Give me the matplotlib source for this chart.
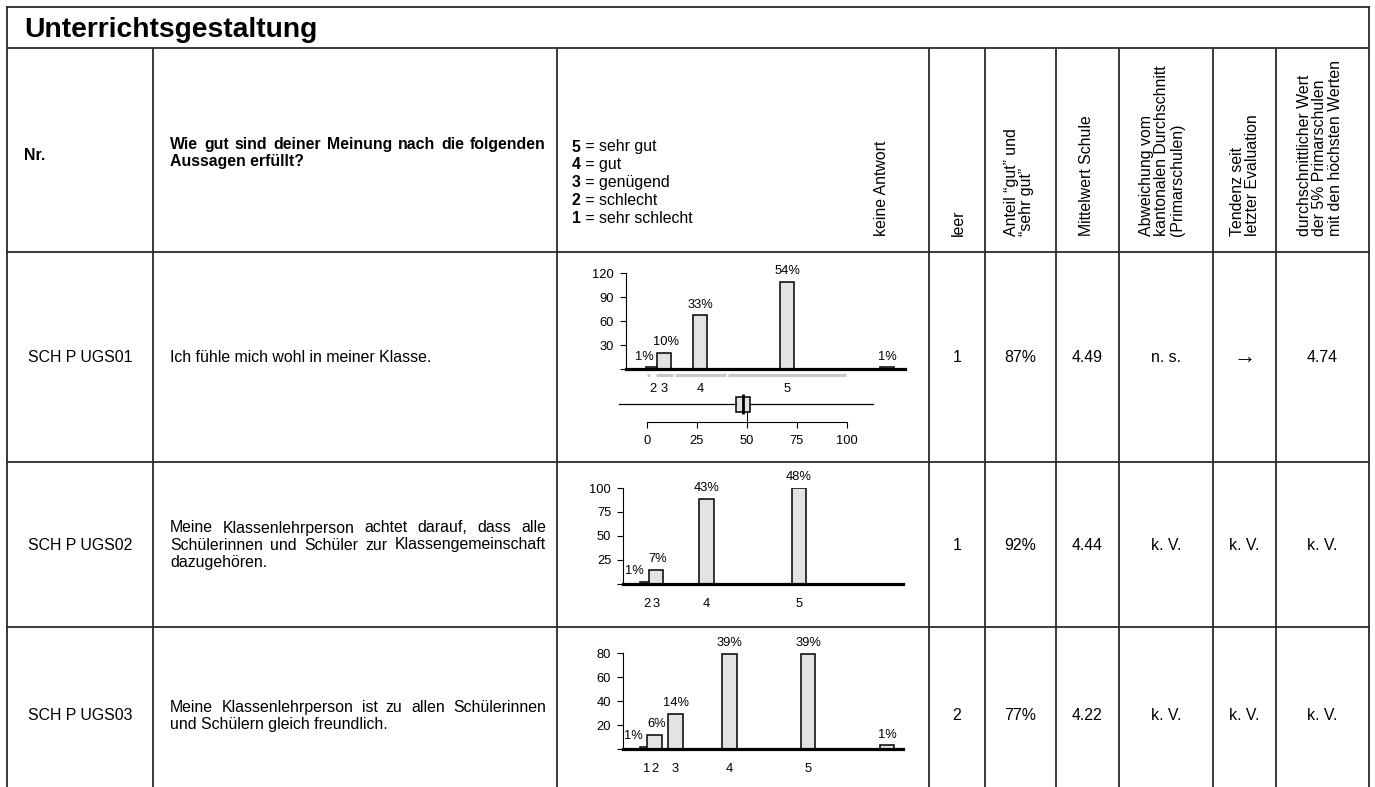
import numpy as np
import matplotlib
matplotlib.use("Agg")
import matplotlib.pyplot as plt

plt.rcParams['font.family'] = ['Liberation Sans', 'DejaVu Sans']

# ---------------- data ----------------
title = "Unterrichtsgestaltung"
header_nr = "Nr."
header_question = ["Wie gut sind deiner Meinung nach die folgenden", "Aussagen erfüllt?"]
scale_nums = ["5", "4", "3", "2", "1"]
scale_words = ["sehr gut", "gut", "genügend", "schlecht", "sehr schlecht"]
header_cols = ["keine Antwort", "leer", "Anteil “gut” und\n“sehr gut”", "Mittelwert Schule",
               "Abweichung vom\nkantonalen Durchschnitt\n(Primarschulen)",
               "Tendenz seit\nletzter Evaluation",
               "durchschnittlicher Wert\nder 5% Primarschulen\nmit den höchsten Werten"]

item_ids = ["SCH P UGS01", "SCH P UGS02", "SCH P UGS03"]
item_texts = [["Ich fühle mich wohl in meiner Klasse."],
              ["Meine Klassenlehrperson achtet darauf, dass alle",
               "Schülerinnen und Schüler zur Klassengemeinschaft",
               "dazugehören."],
              ["Meine Klassenlehrperson ist zu allen Schülerinnen",
               "und Schülern gleich freundlich."]]
leer = ["1", "1", "2"]
anteil = ["87%", "92%", "77%"]
mittelwert = ["4.49", "4.44", "4.22"]
abweichung = ["n. s.", "k. V.", "k. V."]
tendenz = ["\u2192", "k. V.", "k. V."]
top5 = ["4.74", "k. V.", "k. V."]

# histogram per item ("" = keine Antwort); position on the 0-100 percentile scale
cats_1 = ["2", "3", "4", "5", ""]
counts_1 = [2, 20, 67, 109, 2]
pct_1 = ["1%", "10%", "33%", "54%", "1%"]
pos_1 = [3.0, 8.5, 26.5, 70.0, 120.0]
ymax_1 = 120

cats_2 = ["2", "3", "4", "5"]
counts_2 = [2, 15, 89, 100]
pct_2 = ["1%", "7%", "43%", "48%"]
pos_2 = [0.0, 4.5, 29.75, 76.0]
ymax_2 = 100

cats_3 = ["1", "2", "3", "4", "5", ""]
counts_3 = [2, 12, 29, 79, 79, 3]
pct_3 = ["1%", "6%", "14%", "39%", "39%", "1%"]
pos_3 = [0.0, 3.75, 14.25, 41.25, 80.5, 120.0]
ymax_3 = 80

# percentile ranges (grey bands) and box plot for item 1
range_lo_1 = [0.2, 4.5, 13.8, 40.5]
range_hi_1 = [1.5, 12.8, 39.5, 99.5]
box_1 = dict(whislo=-14, q1=44.5, med=48, q3=51.5, whishi=113)
ref_1 = 50
scale_ticks = [0, 25, 50, 75, 100]

# ---------------- layout (pixels) ----------------
W, H, DPI = 1375, 787, 100
COLS = [7, 153, 557, 929, 985, 1056, 1119, 1213, 1276, 1369]
TOP, TITLE_B, HEAD_B = 7, 48, 252
ROW_LINES = [462, 627]
ROW_Y = [357, 545, 716]
TEXT_X0, TEXT_X1 = 170, 546
X0, XS = 647.0, 2.0          # pixel = X0 + XS * percentile
BODY = 11.4
SMALL = 9.3
LINE_H = 17
LINE_C = '#2b2b2b'

fig = plt.figure(figsize=(W / DPI, H / DPI), dpi=DPI)
bg = fig.add_axes([0, 0, 1, 1])
bg.set_xlim(0, W)
bg.set_ylim(H, 0)
bg.axis('off')
renderer = fig.canvas.get_renderer()


def px_axes(l, t, r, b):
    return fig.add_axes([l / W, 1 - b / H, (r - l) / W, (b - t) / H])


def text_width(s, **kw):
    t = bg.text(0, 0, s, **kw)
    w = t.get_window_extent(renderer).width
    t.remove()
    return w


def justified(lines, y_center, **kw):
    n = len(lines)
    y0 = y_center - (n - 1) * LINE_H / 2
    for i, line in enumerate(lines):
        y = y0 + i * LINE_H
        words = line.split(' ')
        if i == n - 1 or len(words) == 1:
            bg.text(TEXT_X0, y, line, ha='left', va='center', **kw)
            continue
        widths = [text_width(w, **kw) for w in words]
        gap = (TEXT_X1 - TEXT_X0 - sum(widths)) / (len(words) - 1)
        x = TEXT_X0
        for w, wd in zip(words, widths):
            bg.text(x, y, w, ha='left', va='center', **kw)
            x += wd + gap


# grid
lw = 1.3
for yl in [TOP, TITLE_B, HEAD_B] + ROW_LINES:
    bg.plot([COLS[0], COLS[-1]], [yl, yl], color=LINE_C, lw=lw)
bg.plot([COLS[0], COLS[0]], [TOP, H], color=LINE_C, lw=lw)
bg.plot([COLS[-1], COLS[-1]], [TOP, H], color=LINE_C, lw=lw)
for xc in COLS[1:-1]:
    bg.plot([xc, xc], [TITLE_B, H], color=LINE_C, lw=lw)

# title
bg.text(24, 37, title, fontsize=20.3, fontweight='bold', va='baseline', ha='left')

# header
bg.text(24, 155, header_nr, fontsize=BODY, fontweight='bold', va='center', ha='left')
justified(header_question, 153, fontsize=BODY, fontweight='bold')

for i, (n, w) in enumerate(zip(scale_nums, scale_words)):
    y = 147 + i * 17.9
    wn = text_width(n, fontsize=BODY, fontweight='bold')
    bg.text(572, y, n, fontsize=BODY, fontweight='bold', va='center', ha='left')
    bg.text(572 + wn, y, " = " + w, fontsize=BODY, va='center', ha='left')

head_x = [882, 958, 1019, 1087, 1162, 1245, 1320]
for x, s in zip(head_x, header_cols):
    bg.text(x, 236, s, rotation=90, fontsize=BODY, ha='center', va='bottom',
            multialignment='left', linespacing=1.05)

# rows
col_centers = [(COLS[i] + COLS[i + 1]) / 2 for i in range(len(COLS) - 1)]
for r in range(3):
    y = ROW_Y[r]
    bg.text(col_centers[0], y, item_ids[r], fontsize=BODY, ha='center', va='center')
    justified(item_texts[r], y, fontsize=BODY)
    for ci, vals in zip(range(3, 9), [leer, anteil, mittelwert, abweichung, tendenz, top5]):
        fs = 16 if vals[r] == "\u2192" else BODY
        bg.text(col_centers[ci], y, vals[r], fontsize=fs, ha='center', va='center')


# bar panels
def bar_panel(cats, counts, pcts, pos, ymax, spine_x, right_x, base_y, label_dx):
    ax = px_axes(spine_x, base_y - 96, right_x, base_y)
    ax.set_xlim((spine_x - X0) / XS, (right_x - X0) / XS)
    ax.set_ylim(0, ymax)
    ax.patch.set_visible(False)
    ax.bar(pos, counts, width=7.2, color='#e3e3e3', edgecolor='black', linewidth=1.1, zorder=2)
    ax.axhline(0, color='black', lw=2.3, clip_on=False, zorder=3)
    for s in ['top', 'right', 'bottom']:
        ax.spines[s].set_visible(False)
    ax.spines['left'].set_bounds(0, ymax)
    ax.spines['left'].set_linewidth(0.8)
    ticks = np.linspace(0, ymax, 5)
    ax.set_yticks(ticks, [''] + [str(int(t)) for t in ticks[1:]])
    ax.tick_params(axis='y', length=4.5, width=0.8, pad=4, labelsize=SMALL)
    xt = [p for p, c in zip(pos, cats) if c]
    xl = [c for c in cats if c]
    ax.set_xticks(xt, xl)
    ax.tick_params(axis='x', length=0, pad=10, labelsize=SMALL)
    for p, c, t, d in zip(pos, counts, pcts, label_dx):
        ax.annotate(t, (p, c), xytext=(d * 0.72, 3.5), textcoords='offset points',
                    ha='center', va='bottom', fontsize=SMALL, annotation_clip=False)
    return ax


ax1 = bar_panel(cats_1, counts_1, pct_1, pos_1, ymax_1, 626, 905, 369, [-9, 2, 0, 0, 0])
ax1.hlines([-7.5] * len(range_lo_1), range_lo_1, range_hi_1, color='#c8c8c8', lw=2.2, clip_on=False)
bar_panel(cats_2, counts_2, pct_2, pos_2, ymax_2, 623, 903, 584, [-13, 2, 0, 0])
bar_panel(cats_3, counts_3, pct_3, pos_3, ymax_3, 623, 903, 749, [-14, 2, 0, 0, 0, 0])

# box plot (item 1)
axb = px_axes(605, 386, 905, 422)
axb.set_xlim((605 - X0) / XS, (905 - X0) / XS)
axb.set_ylim(-18, 18)
axb.patch.set_visible(False)
bkw = dict(positions=[0], widths=15, showfliers=False, showcaps=False, patch_artist=True,
           boxprops=dict(facecolor='#e3e3e3', edgecolor='black', linewidth=1.1),
           whiskerprops=dict(color='black', linewidth=0.9),
           medianprops=dict(linewidth=0))
try:
    axb.bxp([box_1], orientation='horizontal', **bkw)
except TypeError:
    axb.bxp([box_1], vert=False, **bkw)
axb.plot([box_1['med'], box_1['med']], [-10, 10], color='black', lw=2.0, solid_capstyle='butt')
axb.plot([ref_1, ref_1], [-18, -7.5], color='black', lw=0.7)
for s in ['top', 'right', 'left']:
    axb.spines[s].set_visible(False)
axb.spines['bottom'].set_bounds(0, 100)
axb.spines['bottom'].set_linewidth(0.8)
axb.set_yticks([])
axb.set_xticks(scale_ticks, [str(t) for t in scale_ticks])
axb.tick_params(axis='x', direction='out', length=4, width=0.8, pad=5, labelsize=SMALL)

fig.savefig("out.png", dpi=DPI)
